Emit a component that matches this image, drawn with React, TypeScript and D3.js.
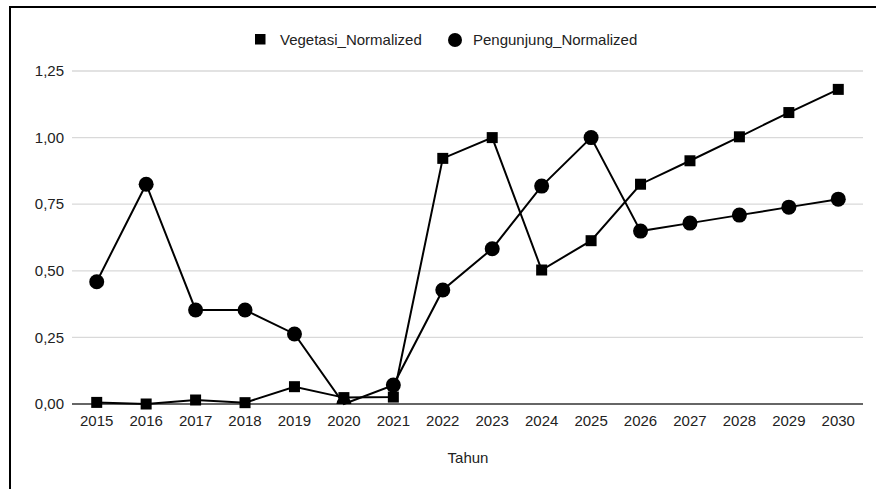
import React from "react";
import * as d3 from "d3";

const years = ["2015","2016","2017","2018","2019","2020","2021","2022","2023","2024","2025","2026","2027","2028","2029","2030"];
const vegetasi = [0.006, 0.0, 0.015, 0.005, 0.065, 0.024, 0.026, 0.922, 1.0, 0.503, 0.613, 0.825, 0.913, 1.003, 1.094, 1.181];
const pengunjung = [0.459, 0.825, 0.353, 0.353, 0.263, 0.0, 0.071, 0.428, 0.583, 0.818, 1.0, 0.649, 0.679, 0.709, 0.739, 0.769];
const yTicks = [0, 0.25, 0.5, 0.75, 1.0, 1.25];
const seriesNames = ["Vegetasi_Normalized", "Pengunjung_Normalized"];

const W = 876, H = 489;
const left = 72, right = 863, top = 71, bottom = 404;
const font = "'Liberation Sans', Arial, sans-serif";

export default function App() {
  const x = d3.scaleBand<string>().domain(years).range([left, right]);
  const y = d3.scaleLinear().domain([0, 1.25]).range([bottom, top]);
  const cx = (d: string) => (x(d) as number) + x.bandwidth() / 2;
  const line = d3.line<number>().x((_, i) => cx(years[i])).y((v) => y(v));
  const fmt = (v: number) => v.toFixed(2).replace(".", ",");
  const sq = 11;

  return (
    <svg width={W} height={H} style={{ position: "absolute", left: 0, top: 0, background: "#fff" }}>
      <defs>
        <clipPath id="plotClip">
          <rect x={0} y={0} width={W} height={bottom} />
        </clipPath>
      </defs>
      <rect x={0} y={0} width={W} height={H} fill="#fff" />
      <path d={`M10,${H} L10,7 L${W},7`} fill="none" stroke="#000" strokeWidth={2} />
      {yTicks.map((t) => (
        <g key={t}>
          <line x1={left} x2={right} y1={y(t)} y2={y(t)} stroke={t === 0 ? "#333" : "#d9d9d9"} strokeWidth={1.3} />
          <text x={64} y={y(t)} dy="0.35em" textAnchor="end" fontFamily={font} fontSize={15} fill="#222">{fmt(t)}</text>
        </g>
      ))}
      {years.map((yr) => (
        <text key={yr} x={cx(yr)} y={421} dy="0.35em" textAnchor="middle" fontFamily={font} fontSize={15} fill="#222">{yr}</text>
      ))}
      <text x={468} y={458} dy="0.35em" textAnchor="middle" fontFamily={font} fontSize={15} fill="#222">Tahun</text>

      <path d={line(vegetasi) || ""} fill="none" stroke="#000" strokeWidth={2} />
      <path d={line(pengunjung) || ""} fill="none" stroke="#000" strokeWidth={2} />
      <g clipPath="url(#plotClip)">
        {pengunjung.map((v, i) => (
          <circle key={"p" + i} cx={cx(years[i])} cy={y(v)} r={7.5} fill="#000" />
        ))}
      </g>
      {vegetasi.map((v, i) => (
        <rect key={"v" + i} x={cx(years[i]) - sq / 2} y={y(v) - sq / 2} width={sq} height={sq} fill="#000" />
      ))}

      <rect x={255} y={34} width={10.5} height={10.5} fill="#000" />
      <text x={280} y={39.5} dy="0.35em" fontFamily={font} fontSize={15} fill="#222">{seriesNames[0]}</text>
      <circle cx={455} cy={40} r={7} fill="#000" />
      <text x={473} y={39.5} dy="0.35em" fontFamily={font} fontSize={15} fill="#222">{seriesNames[1]}</text>
    </svg>
  );
}
